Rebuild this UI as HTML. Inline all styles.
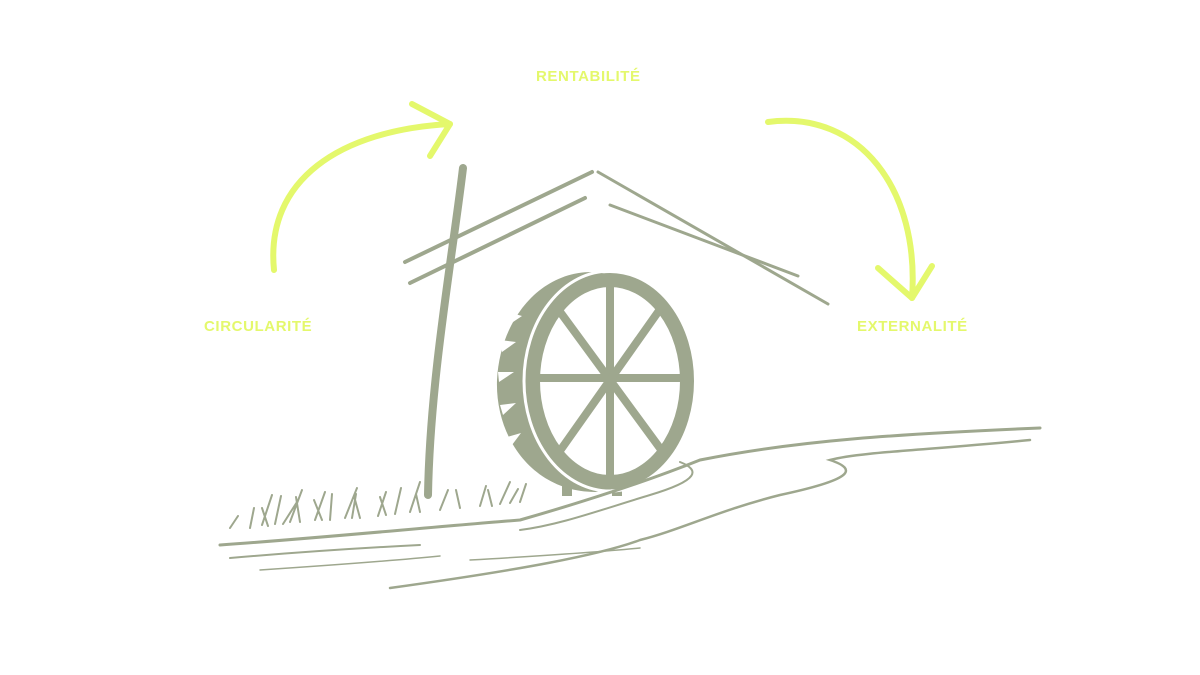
<!DOCTYPE html>
<html><head><meta charset="utf-8"><style>
html,body{margin:0;padding:0;background:#fff;}
svg{display:block}
text{font-family:"Liberation Sans",sans-serif;font-size:15px;font-weight:bold;fill:#e4f86c;letter-spacing:0.6px}
</style></head><body>
<svg width="1200" height="675" viewBox="0 0 1200 675">
<g fill="none" stroke="#e4f86c" stroke-width="6" stroke-linecap="round" stroke-linejoin="round">
<path d="M274 270 C265 180 340 130 450 124"/>
<path d="M412 104 L450 124 L430 156"/>
<path d="M768 122 C860 110 920 190 912 298"/>
<path d="M878 268 L912 298 L932 266"/>
</g>
<text x="536" y="81">RENTABILITÉ</text>
<text x="204" y="331">CIRCULARITÉ</text>
<text x="857" y="331">EXTERNALITÉ</text>
<g stroke="#9ea78e" stroke-linecap="round" fill="none">
<path d="M463 168 C452 260 430 380 428 495" stroke-width="8"/>
<path d="M405 262 L592 172" stroke-width="4"/>
<path d="M410 283 L585 198" stroke-width="4"/>
<path d="M598 172 L828 304" stroke-width="3"/>
<path d="M610 205 L798 276" stroke-width="3"/>
</g>
<g fill="#9ea78e">
<path d="M595 272 C540 270 500 320 497 380 C495 440 535 492 595 492 L620 488 L620 276 Z"/>
<rect x="562" y="470" width="10" height="26"/>
<rect x="612" y="470" width="10" height="26"/>
</g>
<g fill="#fff">
<path d="M500 340 l16 2 l-14 10z M498 372 l16 0 l-15 10z M500 405 l16 -2 l-13 12z M507 437 l14 -4 l-9 12z M508 312 l14 4 l-12 8z"/>
</g>
<ellipse cx="610" cy="381" rx="86" ry="110" fill="none" stroke="#fff" stroke-width="3"/>
<ellipse cx="610" cy="381" rx="77" ry="101" fill="#fff" stroke="#9ea78e" stroke-width="14"/>
<g stroke="#9ea78e" stroke-width="8">
<line x1="610" y1="284" x2="610" y2="478"/>
<line x1="537" y1="378" x2="683" y2="378"/>
<line x1="555" y1="305" x2="665" y2="455"/>
<line x1="663" y1="305" x2="557" y2="455"/>
</g>
<g fill="none" stroke="#9ea78e" stroke-linecap="round">
<path d="M220 545 C320 538 420 528 520 520 C590 500 650 480 700 460 C800 440 900 434 1040 428" stroke-width="3"/>
<path d="M680 462 C700 470 700 480 650 495 C600 510 560 525 520 530" stroke-width="2"/>
<path d="M1030 440 C930 450 860 452 830 460 C860 470 850 480 780 495 C720 510 680 530 640 540 C600 555 520 570 390 588" stroke-width="2.5"/>
<path d="M230 558 C300 552 360 548 420 545" stroke-width="2"/>
<path d="M260 570 C320 566 380 562 440 556" stroke-width="1.5"/>
<path d="M470 560 C540 556 600 552 640 548" stroke-width="1.5"/>
<path d="M230 528 l8 -12 M250 528 l4 -20 M262 525 l10 -30 M275 524 l6 -28 M290 522 l12 -32 M300 522 l-4 -25 M315 520 l10 -28 M330 520 l2 -26 M345 518 l12 -30 M360 518 l-6 -22 M378 516 l8 -24 M395 514 l6 -26 M410 512 l10 -30 M440 510 l8 -20 M460 508 l-4 -18 M480 506 l6 -20 M500 504 l10 -22 M520 502 l6 -18 M268 526 l-6 -18 M283 524 l14 -22 M322 520 l-8 -20 M352 518 l4 -24 M386 515 l-6 -18 M420 512 l-4 -18 M492 506 l-4 -16 M510 503 l8 -14" stroke-width="2"/>
</g>
</svg>
</body></html>
